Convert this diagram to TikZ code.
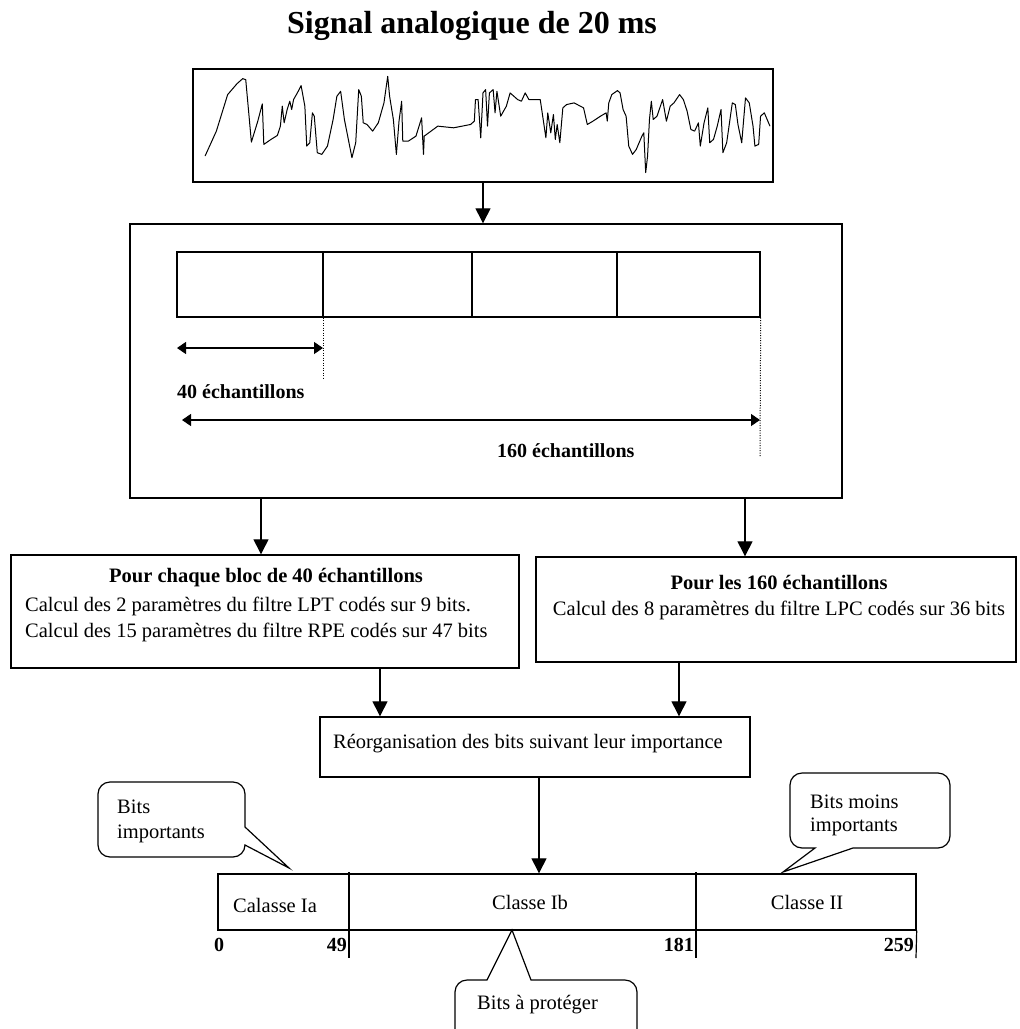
\documentclass[tikz,border=0pt]{standalone}
\usepackage{fontspec}
\setmainfont{Liberation Serif}
\usetikzlibrary{arrows.meta}

\tikzset{
  frame/.style={draw, line width=1.4pt, inner sep=0pt},
  flow/.style={line width=1.3pt, -{Triangle[length=15pt,width=15pt]}},
  span/.style={line width=1.3pt, {Triangle[length=9pt,width=12pt]}-{Triangle[length=9pt,width=12pt]}},
  guide/.style={line width=1pt, dash pattern=on 1pt off 1.5pt},
  txt/.style={font=\fontsize{20.5}{24}\selectfont, inner sep=0pt},
  boldtxt/.style={font=\fontsize{20.5}{24}\selectfont\bfseries, inner sep=0pt},
  dimtxt/.style={font=\fontsize{20}{24}\selectfont\bfseries, inner sep=0pt},
  bubble/.style={line width=1.2pt, rounded corners=12pt},
  wave/.style={line width=1pt, line join=round},
}

\begin{document}
\begin{tikzpicture}[x=1pt, y=-1pt]
\useasboundingbox (0,0) rectangle (1020,1029);

% title
\node[font=\fontsize{32}{38}\selectfont\bfseries, inner sep=0pt, anchor=base] (title) at (472,33) {Signal analogique de 20 ms};

% analogue signal frame and its waveform
\node[frame, minimum width=580pt, minimum height=113pt] (sig) at (483,125.5) {};
\begin{scope}[shift={(190,59.7)}, x=0.3766pt, y=-0.3322pt]
\draw[wave] plot coordinates {
(40,290) (70,215) (100,105) (125,72) (140,57) (148,60) (163,248) (180,185) (192,133) (196,255)
(215,240) (232,228) (240,200) (245,140) (250,190) (258,150) (265,125) (270,150) (275,120)
(285,100) (295,78) (305,140) (310,260) (318,250) (325,160) (330,170) (338,280) (350,285)
(365,260) (380,180) (390,110) (400,95) (410,180) (430,295) (440,250) (448,90) (455,110)
(460,190) (470,195) (485,215) (500,190) (515,130) (525,50) (530,110) (540,180) (548,285)
(555,185) (562,125) (565,245) (580,245) (600,230) (615,175) (620,285) (622,230) (640,215)
(658,200) (700,205) (745,195) (755,185) (758,120) (765,120) (772,235) (778,100) (785,90)
(790,200) (795,100) (805,90) (810,160) (815,95) (825,170) (840,140) (850,100) (860,110)
(870,120) (880,125) (890,100) (900,120) (930,120) (945,235) (950,160) (958,220) (965,165)
(970,240) (975,195) (982,250) (990,145) (1000,135) (1020,130) (1045,145) (1055,195)
(1070,185) (1090,170) (1105,160) (1108,185) (1112,130) (1120,105) (1135,93) (1142,100)
(1150,150) (1158,170) (1165,260) (1175,285) (1185,270) (1200,230) (1205,220) (1210,340)
(1215,290) (1220,180) (1225,125) (1230,180) (1240,170) (1255,120) (1265,185) (1275,140)
(1285,130) (1300,105) (1310,120) (1320,155) (1330,210) (1340,215) (1350,190) (1355,260)
(1365,190) (1375,145) (1380,250) (1390,240) (1400,200) (1410,150) (1415,280) (1425,250)
(1440,130) (1448,135) (1455,195) (1465,250) (1475,115) (1485,130) (1495,200) (1500,260)
(1510,255) (1515,170) (1525,160) (1540,200)};
\end{scope}

% framing stage
\node[frame, minimum width=712pt, minimum height=274pt] (frm) at (486,361) {};
\draw[flow] (sig.south) -- (sig.south |- frm.north);

% four sub-blocks of 40 samples
\node[frame, minimum width=583pt, minimum height=65pt] (blk) at (468.5,284.5) {};
\coordinate (d1) at (323,0);
\coordinate (d2) at (472,0);
\coordinate (d3) at (617,0);
\draw[line width=1.3pt] (blk.north -| d1) -- (blk.south -| d1);
\draw[line width=1.3pt] (blk.north -| d2) -- (blk.south -| d2);
\draw[line width=1.3pt] (blk.north -| d3) -- (blk.south -| d3);

% dimension marks
\coordinate (g1) at (323,380);
\coordinate (g2) at (760,456);
\draw[guide] (blk.south -| g1) -- (g1);
\draw[guide] (blk.south east) -- (g2);
\coordinate (a1) at (177,348);
\coordinate (a2) at (182,420);
\draw[span] (a1) -- (a1 -| g1);
\draw[span] (a2) -- (a2 -| g2);
\node[dimtxt, anchor=west] (n40) at (177,392) {40 échantillons};
\node[dimtxt, anchor=west] (n160) at (497,451) {160 échantillons};

% parameter computation boxes
\node[frame, minimum width=508pt, minimum height=113pt] (lbox) at (265,611.5) {};
\node[frame, minimum width=480pt, minimum height=105pt] (rbox) at (776,609.5) {};
\coordinate (e1) at (261,0);
\coordinate (e2) at (745,0);
\draw[flow] (frm.south -| e1) -- (lbox.north -| e1);
\draw[flow] (frm.south -| e2) -- (rbox.north -| e2);

\node[boldtxt] (lt) at (266,578) {Pour chaque bloc de 40 échantillons};
\node[txt, anchor=west] (l1) at (25,606) {Calcul des 2 paramètres du filtre LPT codés sur 9 bits.};
\node[txt, anchor=west] (l2) at (25,632) {Calcul des 15 paramètres du filtre RPE codés sur 47 bits};
\node[boldtxt] (rt) at (779,582) {Pour les 160 échantillons};
\node[txt] (r1) at (779,610) {Calcul des 8 paramètres du filtre LPC codés sur 36 bits};

% reordering
\node[frame, minimum width=430pt, minimum height=60pt] (reorg) at (535,747) {};
\node[txt, anchor=west] (rt2) at (333,744) {Réorganisation des bits suivant leur importance};
\coordinate (f1) at (380,0);
\coordinate (f2) at (679,0);
\draw[flow] (lbox.south -| f1) -- (reorg.north -| f1);
\draw[flow] (rbox.south -| f2) -- (reorg.north -| f2);

% 260-bit frame split into classes
\node[frame, minimum width=698pt, minimum height=56pt] (bar) at (567,902) {};
\coordinate (f3) at (539,0);
\draw[flow] (reorg.south -| f3) -- (bar.north -| f3);
\coordinate (k1) at (349,958);
\coordinate (k2) at (696,958);
\coordinate (k3) at (916,958);
\draw[line width=1.2pt] (349,872) -- (k1);
\draw[line width=1.2pt] (696,872) -- (k2);
\draw[line width=1.2pt] (bar.south east) -- (k3);
\node[txt, anchor=west] (ca) at (233,905) {Calasse Ia};
\node[txt] (cb) at (530,902) {Classe Ib};
\node[txt] (cc) at (807,902) {Classe II};
\node[dimtxt] (b0) at (219,945) {0};
\node[dimtxt, anchor=east] (b49) at (347,945) {49};
\node[dimtxt, anchor=east] (b181) at (694,945) {181};
\node[dimtxt, anchor=east] (b259) at (914,945) {259};

% callouts (sharp corners only where the pointer meets the body)
\coordinate (t1) at (289,868);
\draw[bubble] (98,820) -- (98,782) -- (245,782) [sharp corners] -- (245,827) -- (t1) -- (245,845) [rounded corners=12pt] -- (245,857) -- (98,857) -- cycle;
\node[txt, anchor=west] (c1a) at (117,807) {Bits};
\node[txt, anchor=west] (c1b) at (117,834) {importants};

\coordinate (t2) at (783,872);
\draw[bubble] (870,773) -- (950,773) -- (950,848) [sharp corners] -- (853,848) -- (t2) -- (815,848) -- (805,848) [rounded corners=12pt] -- (790,848) -- (790,773) -- cycle;
\node[txt, anchor=west] (c2a) at (810,802) {Bits moins};
\node[txt, anchor=west] (c2b) at (810,827) {importants};

\coordinate (t3) at (512,930);
\draw[bubble] (455,1040) -- (455,980) [sharp corners] -- (487,980) -- (t3) -- (531,980) -- (545,980) [rounded corners=12pt] -- (637,980) -- (637,1040);
\node[txt, anchor=west] (c3) at (477,1005) {Bits à protéger};
\end{tikzpicture}
\end{document}
